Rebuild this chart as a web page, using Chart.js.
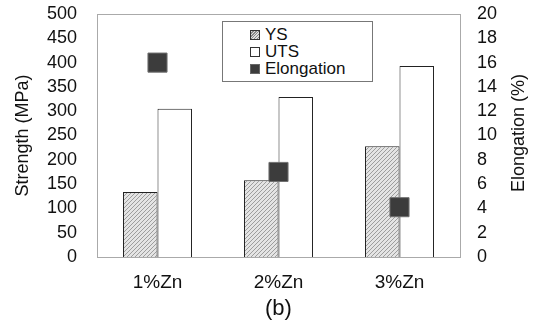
<!DOCTYPE html>
<html>
<head>
<meta charset="utf-8">
<script src="https://cdn.jsdelivr.net/npm/chart.js@4/dist/chart.umd.min.js"></script>
<style>
  body { margin: 0; background: #fff; }
  #wrap { position: relative; width: 535px; height: 329px; font-family: "Liberation Sans", Arial, sans-serif; color: #111; }
  #legend { position: absolute; left: 222px; top: 21px; width: 151px; height: 61px; border: 1px solid #777; background: #fff; padding: 4px 0 0 27px; box-sizing: border-box; }
  .item { display: flex; align-items: center; height: 17px; font-size: 17px; line-height: 17px; }
  .sw { width: 10px; height: 10px; border: 1px solid #333; margin-right: 5px; box-sizing: border-box; }
  #caption { position: absolute; left: 0; top: 295px; width: 557px; text-align: center; font-size: 22px; }
  #rtitle { position: absolute; left: 448px; top: 122px; width: 140px; height: 22px; line-height: 22px; text-align: center; font-size: 18px; transform: rotate(-90deg); transform-origin: 70px 11px; }
</style>
</head>
<body>
<div id="wrap">
  <canvas id="chart" width="535" height="329"></canvas>
  <div id="legend">
    <div class="item"><span class="sw" style="background: repeating-linear-gradient(-45deg, #ddd 0 1px, #888 1px 2px);"></span>YS</div>
    <div class="item"><span class="sw" style="background:#fff;"></span>UTS</div>
    <div class="item"><span class="sw" style="background:#3c3c3c;border-color:#666;"></span>Elongation</div>
  </div>
  <div id="rtitle">Elongation (%)</div>
  <div id="caption">(b)</div>
</div>
<script>
// Data
const categories = ["1%Zn", "2%Zn", "3%Zn"];
const ysValues = [134, 158, 228];          // MPa
const utsValues = [305, 329, 393];         // MPa
const elongationValues = [16.0, 7.0, 4.1]; // %

// Diagonal hatch used for the YS bars
function makeHatch() {
  const c = document.createElement("canvas");
  c.width = 4;
  c.height = 4;
  const g = c.getContext("2d");
  g.fillStyle = "#e4e4e4";
  g.fillRect(0, 0, 4, 4);
  g.strokeStyle = "#8a8a8a";
  g.lineWidth = 0.8;
  g.beginPath();
  g.moveTo(0, 4); g.lineTo(4, 0);
  g.moveTo(-1, 1); g.lineTo(1, -1);
  g.moveTo(3, 5); g.lineTo(5, 3);
  g.stroke();
  return g.createPattern(c, "repeat");
}

// Light frame around the plot area
const frame = {
  id: "frame",
  beforeDatasetsDraw(chart) {
    const { ctx, chartArea: a } = chart;
    ctx.save();
    ctx.strokeStyle = "#aaaaaa";
    ctx.lineWidth = 1;
    ctx.strokeRect(a.left + 0.5, a.top + 0.5, a.right - a.left, a.bottom - a.top);
    ctx.restore();
  }
};

const font = { family: "'Liberation Sans', Arial, sans-serif", size: 18 };

// fixed plot box: left 97, right 460, top 14, bottom 257
function fitVertical(width) {
  return s => {
    s.width = width;
    s.paddingTop = 14;
    s.paddingBottom = 0;
  };
}

new Chart(document.getElementById("chart"), {
  data: {
    labels: categories,
    datasets: [
      {
        type: "line",
        label: "Elongation",
        data: elongationValues,
        yAxisID: "y1",
        showLine: false,
        pointStyle: "rect",
        pointRadius: 13.5,
        backgroundColor: "#3c3c3c",
        borderColor: "#707070",
        borderWidth: 1
      },
      {
        type: "bar",
        label: "YS",
        data: ysValues,
        yAxisID: "y",
        backgroundColor: makeHatch(),
        borderColor: "#222",
        borderWidth: 1
      },
      {
        type: "bar",
        label: "UTS",
        data: utsValues,
        yAxisID: "y",
        backgroundColor: "#fff",
        borderColor: "#222",
        borderWidth: 1
      }
    ]
  },
  options: {
    responsive: false,
    animation: false,
    layout: { autoPadding: false, padding: 0 },
    datasets: { bar: { categoryPercentage: 0.57, barPercentage: 1.0 } },
    plugins: { legend: { display: false }, tooltip: { enabled: false } },
    scales: {
      x: {
        grid: { display: false, drawTicks: false },
        border: { display: false },
        ticks: { color: "#111", font: { ...font, size: 19 }, padding: 14 },
        afterFit: s => { s.height = 72; s.paddingLeft = 0; s.paddingRight = 0; }
      },
      y: {
        position: "left",
        min: 0, max: 500,
        grid: { display: false, drawTicks: false },
        border: { display: false },
        ticks: { stepSize: 50, autoSkip: false, color: "#111", font, padding: 20 },
        title: { display: true, text: "Strength (MPa)", color: "#111", font, padding: { top: 12, bottom: 0 } },
        afterFit: fitVertical(97)
      },
      y1: {
        position: "right",
        min: 0, max: 20,
        grid: { display: false, drawTicks: false },
        border: { display: false },
        ticks: { stepSize: 2, autoSkip: false, color: "#111", font, padding: 17 },
        afterFit: fitVertical(75)
      }
    }
  },
  plugins: [frame]
});
</script>
</body>
</html>
